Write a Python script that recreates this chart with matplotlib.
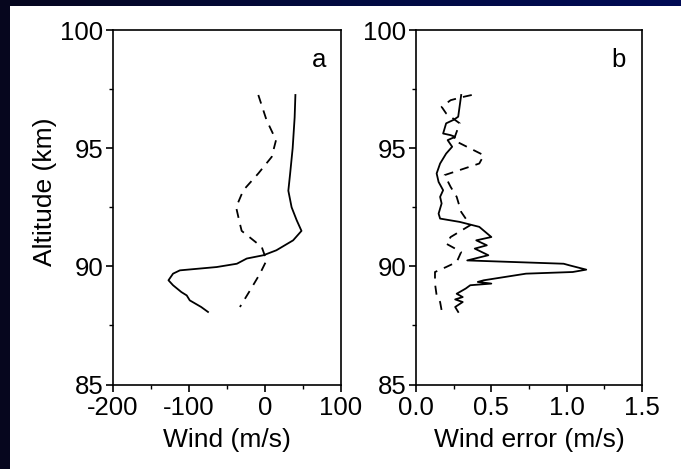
import numpy as np
import matplotlib
matplotlib.use("Agg")
import matplotlib.pyplot as plt
from matplotlib.ticker import MultipleLocator, FormatStrFormatter, FuncFormatter
from matplotlib.colors import LinearSegmentedColormap

plt.rcParams['font.family'] = ['Liberation Sans', 'DejaVu Sans']

# Panel a: wind profiles
alt_a_solid = [97.25, 96.3, 95.0, 93.9, 93.2, 92.5, 91.95, 91.5, 91.1, 90.68, 90.47, 90.33,
               90.11, 89.97, 89.83, 89.69, 89.41, 89.2, 88.91, 88.77, 88.56, 88.28, 88.07]
wind_a_solid = [40, 39, 36.4, 33, 30.7, 35, 41.7, 48, 37, 15, -2, -24,
                -37, -63.6, -112, -121, -127, -121, -110, -103, -99, -84, -75]

alt_a_dash = [97.25, 96.19, 95.34, 94.63, 93.93, 93.22, 92.5, 91.8, 91.5, 90.82, 90.25,
              89.69, 88.98, 88.28]
wind_a_dash = [-8.8, 2, 14.5, 8.8, -8.8, -28.5, -38, -33, -30.7, -4.3, 2, -6.6, -19.7, -33]

# Panel b: wind error profiles
alt_b_solid = [97.25, 96.33, 96.2, 96.05, 95.62, 95.55, 95.48, 95.34, 95.06, 94.77, 94.35,
               93.93, 93.57, 93.22, 92.94, 92.66, 92.23, 92.02, 91.88, 91.67, 91.24, 91.1,
               90.89, 90.75, 90.47, 90.25, 90.11, 90.04, 89.86, 89.76, 89.69, 89.41, 89.34,
               89.27, 89.2, 89.06, 88.84, 88.7, 88.6, 88.49, 88.28, 88.07]
err_b_solid = [0.30, 0.28, 0.25, 0.20, 0.18, 0.23, 0.26, 0.21, 0.24, 0.20, 0.16,
               0.137, 0.15, 0.18, 0.16, 0.17, 0.15, 0.16, 0.29, 0.42, 0.50, 0.40,
               0.47, 0.39, 0.48, 0.34, 0.98, 1.02, 1.13, 1.04, 0.73, 0.45, 0.41,
               0.50, 0.36, 0.33, 0.27, 0.31, 0.26, 0.31, 0.26, 0.28]

alt_b_dash = [97.25, 97.15, 97.03, 96.75, 96.47, 96.05, 95.34, 94.7, 94.35, 93.86, 93.36,
              92.94, 92.3, 91.74, 91.24, 90.96, 90.61, 90.18, 89.97, 89.76, 89.27, 88.77,
              88.49, 88.14]
err_b_dash = [0.37, 0.30, 0.23, 0.17, 0.20, 0.29, 0.25, 0.45, 0.42, 0.19, 0.23,
              0.27, 0.30, 0.36, 0.23, 0.20, 0.30, 0.27, 0.20, 0.126, 0.126, 0.137,
              0.16, 0.17]

W, H, DPI = 681, 469, 100
fig = plt.figure(figsize=(W / DPI, H / DPI), dpi=DPI, facecolor='white')

cmap = LinearSegmentedColormap.from_list('navy', ['#06061e', '#020a40', '#000a55'])


def px_axes(x0, y0, x1, y1):
    return fig.add_axes([x0 / W, 1 - y1 / H, (x1 - x0) / W, (y1 - y0) / H])


# navy strips along top and left edges
top = px_axes(0, 0, W, 6)
top.imshow(np.linspace(0, 1, 256)[None, :], aspect='auto', cmap=cmap, extent=[0, 1, 0, 1])
top.axis('off')
left = px_axes(0, 0, 10, H)
left.imshow(np.zeros((2, 2)), aspect='auto', cmap=cmap, vmin=0, vmax=1, extent=[0, 1, 0, 1])
left.axis('off')

ax1 = px_axes(113, 30, 341, 384.5)
ax2 = px_axes(416, 30, 642, 384.5)

fs_tick = 18.5
fs_xlab = 19
fs_ylab = 19

for ax in (ax1, ax2):
    ax.set_ylim(85, 100)
    ax.yaxis.set_major_locator(MultipleLocator(5))
    ax.yaxis.set_minor_locator(MultipleLocator(2.5))
    ax.tick_params(which='major', direction='out', length=5, width=1.2, labelsize=fs_tick)
    ax.tick_params(axis='y', which='major', pad=2)
    ax.tick_params(axis='x', which='major', pad=3)
    ax.tick_params(which='minor', direction='out', length=3, width=1.0)
    for s in ax.spines.values():
        s.set_linewidth(1.2)
    ax.set_facecolor('white')

ax1.plot(wind_a_solid, alt_a_solid, color='black', lw=1.3)
ax1.plot(wind_a_dash, alt_a_dash, color='black', lw=1.3, linestyle=(0, (5, 4)))
ax1.set_xlim(-200, 100)
ax1.xaxis.set_major_locator(MultipleLocator(100))
ax1.xaxis.set_minor_locator(MultipleLocator(50))
ax1.xaxis.set_major_formatter(FuncFormatter(lambda v, p: f'{v:.0f}'))
ax1.set_xlabel('Wind (m/s)', fontsize=fs_xlab, labelpad=6)
ax1.set_ylabel('Altitude (km)', fontsize=fs_ylab)
ax1.yaxis.set_label_coords((57 - 113) / 228, (384.5 - 192) / 354.5)
ax1.text(0.905, 0.915, 'a', transform=ax1.transAxes, fontsize=18.5, ha='center', va='center')

ax2.plot(err_b_solid, alt_b_solid, color='black', lw=1.3)
ax2.plot(err_b_dash, alt_b_dash, color='black', lw=1.3, linestyle=(0, (5, 4)))
ax2.set_xlim(0, 1.5)
ax2.xaxis.set_major_locator(MultipleLocator(0.5))
ax2.xaxis.set_minor_locator(MultipleLocator(0.25))
ax2.xaxis.set_major_formatter(FormatStrFormatter('%.1f'))
ax2.set_xlabel('Wind error (m/s)', fontsize=fs_xlab, labelpad=6)
ax2.text(0.895, 0.915, 'b', transform=ax2.transAxes, fontsize=18.5, ha='center', va='center')

fig.savefig('out.png', dpi=DPI, facecolor='white')
